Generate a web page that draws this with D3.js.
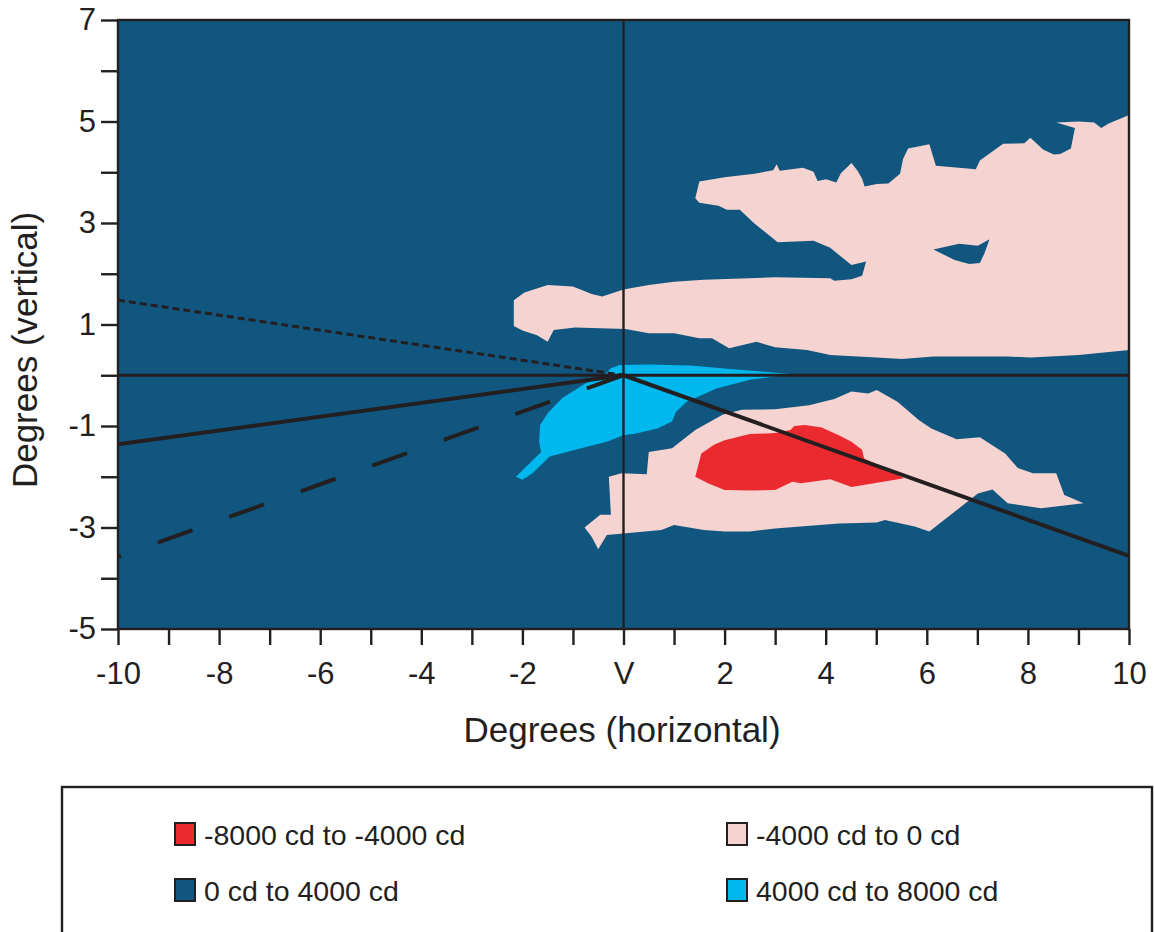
<!DOCTYPE html>
<html>
<head>
<meta charset="utf-8">
<script src="https://cdn.jsdelivr.net/npm/d3@7"></script>
<style>
  html, body { margin: 0; padding: 0; background: #fff; }
  svg { display: block; font-family: "Liberation Sans", Arial, sans-serif; }
</style>
</head>
<body>
<svg id="chart" width="1154" height="932"></svg>
<script>
// ---------- data (degrees) ----------
const xTicks = d3.range(-10, 11);
const yTicks = d3.range(-5, 8);

const legendLabels = ["-8000 cd to -4000 cd", "-4000 cd to 0 cd", "0 cd to 4000 cd", "4000 cd to 8000 cd"];
const legendColors = ["#ea2a2f", "#f5d3d0", "#11567f", "#00b7ee"];

// -4000 to 0 cd, upper region
const upperPink = [[-2.17,1.48],[-1.96,1.63],[-1.50,1.78],[-1.00,1.75],[-0.63,1.60],[-0.42,1.55],[0.00,1.69],[0.50,1.78],[1.00,1.84],[1.59,1.88],[3.00,1.93],[4.09,1.91],[4.17,1.86],[4.51,1.89],[4.72,1.96],[4.80,2.24],[4.51,2.17],[4.09,2.51],[3.76,2.65],[3.05,2.62],[2.59,2.99],[2.30,3.26],[2.04,3.26],[1.88,3.34],[1.50,3.40],[1.42,3.49],[1.50,3.82],[2.00,3.90],[2.59,3.97],[2.96,4.04],[3.03,4.16],[3.09,4.03],[3.55,4.09],[3.76,4.01],[3.84,3.83],[4.01,3.86],[4.21,3.80],[4.30,3.98],[4.51,4.18],[4.63,4.03],[4.72,3.87],[4.77,3.72],[5.01,3.77],[5.24,3.78],[5.47,3.97],[5.53,4.26],[5.63,4.47],[6.05,4.55],[6.18,4.13],[6.97,4.06],[7.05,4.23],[7.51,4.56],[7.93,4.57],[8.05,4.68],[8.30,4.45],[8.51,4.35],[8.64,4.36],[8.85,4.47],[8.93,4.87],[8.56,4.98],[9.01,5.00],[9.31,4.98],[9.45,4.87],[9.60,4.96],[10.00,5.13],[10.00,0.50],[9.01,0.40],[8.05,0.35],[7.60,0.37],[7.01,0.37],[6.13,0.37],[5.51,0.32],[5.01,0.35],[4.09,0.40],[3.63,0.50],[3.00,0.55],[2.63,0.66],[2.09,0.53],[1.75,0.73],[1.50,0.73],[1.00,0.83],[0.50,0.83],[0.04,0.91],[-0.96,0.94],[-1.38,0.89],[-1.50,0.66],[-1.71,0.79],[-2.00,0.88],[-2.17,0.97]];
const upperPinkHole = [[6.13,2.48],[6.64,2.59],[7.01,2.55],[7.24,2.68],[7.14,2.40],[7.05,2.21],[6.84,2.19],[6.55,2.27]];

// -4000 to 0 cd, lower region
const lowerPink = [[1.96,-0.78],[2.34,-0.68],[3.00,-0.67],[3.67,-0.59],[4.17,-0.47],[4.51,-0.32],[4.84,-0.36],[5.01,-0.29],[5.42,-0.52],[5.84,-0.88],[6.09,-1.05],[6.59,-1.26],[7.05,-1.22],[7.55,-1.54],[7.80,-1.83],[8.10,-1.93],[8.56,-1.93],[8.72,-2.36],[9.10,-2.52],[8.26,-2.62],[7.60,-2.52],[7.30,-2.25],[7.01,-2.33],[6.55,-2.69],[6.05,-3.08],[5.76,-2.98],[5.17,-2.85],[5.01,-2.90],[4.26,-2.92],[3.00,-3.02],[2.50,-3.08],[2.00,-3.08],[1.59,-3.05],[1.00,-2.95],[0.75,-3.05],[-0.33,-3.15],[-0.50,-3.43],[-0.63,-3.18],[-0.77,-3.00],[-0.46,-2.75],[-0.25,-2.75],[-0.29,-2.00],[-0.04,-1.93],[0.46,-1.95],[0.50,-1.51],[0.96,-1.44],[1.42,-1.08]];

// -8000 to -4000 cd
const redCore = [[1.42,-2.00],[1.54,-1.54],[1.79,-1.37],[2.00,-1.28],[2.50,-1.16],[3.00,-1.14],[3.30,-1.08],[3.38,-1.00],[3.59,-0.98],[3.92,-1.03],[4.26,-1.18],[4.51,-1.31],[4.72,-1.47],[4.76,-1.64],[5.17,-1.83],[5.55,-2.03],[4.51,-2.20],[4.09,-2.05],[3.51,-2.13],[3.34,-2.10],[3.00,-2.26],[2.50,-2.27],[2.00,-2.26],[1.67,-2.13]];

// 4000 to 8000 cd
const cyanCore = [[-0.25,0.14],[-0.08,0.20],[0.50,0.21],[1.33,0.19],[2.17,0.12],[3.35,0.02],[2.50,-0.09],[1.84,-0.26],[1.25,-0.52],[1.04,-0.72],[0.96,-0.91],[0.67,-1.05],[0.25,-1.15],[0.00,-1.18],[-0.33,-1.31],[-0.84,-1.44],[-1.46,-1.60],[-1.80,-1.93],[-2.00,-2.06],[-2.13,-2.00],[-1.63,-1.51],[-1.67,-1.31],[-1.65,-0.98],[-1.50,-0.75],[-1.21,-0.45],[-0.75,-0.16],[-0.42,-0.03]];

// reference lines through V (0,0)
const solidLeft  = [[-10,-1.36],[0,0]];
const solidRight = [[0,0],[10,-3.56]];
const dottedLine = [[-10,1.48],[0,0]];
const dashedLine = [[0,0],[-10,-3.58]];

// ---------- drawing ----------
const ink = "#231f20";
const svg = d3.select("#chart");
const x = d3.scaleLinear().domain([-10, 10]).range([118, 1129]);
const y = d3.scaleLinear().domain([-5, 7]).range([629, 20]);
const line = d3.line().x(d => x(d[0])).y(d => y(d[1]));
const closed = pts => line(pts) + "Z";

const plot = svg.append("g");
plot.append("rect")
  .attr("x", x(-10)).attr("y", y(7))
  .attr("width", x(10) - x(-10)).attr("height", y(-5) - y(7))
  .attr("fill", legendColors[2]);

plot.append("path").attr("d", closed(upperPink) + closed(upperPinkHole))
  .attr("fill", legendColors[1]).attr("fill-rule", "evenodd");
plot.append("path").attr("d", closed(lowerPink)).attr("fill", legendColors[1]);
plot.append("path").attr("d", closed(redCore)).attr("fill", legendColors[0]);
plot.append("path").attr("d", closed(cyanCore)).attr("fill", legendColors[3]);

// crosshair
plot.append("line").attr("x1", x(-10)).attr("x2", x(10)).attr("y1", y(0)).attr("y2", y(0))
  .attr("stroke", ink).attr("stroke-width", 2.8);
plot.append("line").attr("x1", x(0)).attr("x2", x(0)).attr("y1", y(7)).attr("y2", y(-5))
  .attr("stroke", ink).attr("stroke-width", 2.4);

// reference lines
plot.append("path").attr("d", line(dottedLine)).attr("fill", "none")
  .attr("stroke", ink).attr("stroke-width", 3).attr("stroke-dasharray", "7,4");
plot.append("path").attr("d", line(dashedLine)).attr("fill", "none")
  .attr("stroke", ink).attr("stroke-width", 4).attr("stroke-dasharray", "37,39").attr("stroke-dashoffset", 74);
plot.append("path").attr("d", line(solidLeft)).attr("fill", "none")
  .attr("stroke", ink).attr("stroke-width", 4);
plot.append("path").attr("d", line(solidRight)).attr("fill", "none")
  .attr("stroke", ink).attr("stroke-width", 4);

// frame
plot.append("rect")
  .attr("x", x(-10)).attr("y", y(7))
  .attr("width", x(10) - x(-10)).attr("height", y(-5) - y(7))
  .attr("fill", "none").attr("stroke", ink).attr("stroke-width", 2.4);

// axes
const yAxis = d3.axisLeft(y).tickValues(yTicks)
  .tickFormat(d => Math.abs(d % 2) === 1 ? String(d) : "")
  .tickSize(17).tickPadding(5);
const gy = svg.append("g").attr("transform", `translate(${x(-10)},0)`).call(yAxis);
gy.select(".domain").remove();
gy.selectAll(".tick line").attr("stroke", ink).attr("stroke-width", 2.4);
gy.selectAll(".tick text").attr("fill", ink).style("font-size", "31px")
  .style("font-family", "'Liberation Sans', Arial, sans-serif");

const xAxis = d3.axisBottom(x).tickValues(xTicks)
  .tickFormat(d => d % 2 === 0 ? (d === 0 ? "V" : String(d)) : "")
  .tickSize(16).tickPadding(17);
const gx = svg.append("g").attr("transform", `translate(0,${y(-5)})`).call(xAxis);
gx.select(".domain").remove();
gx.selectAll(".tick line").attr("stroke", ink).attr("stroke-width", 2.4);
gx.selectAll(".tick text").attr("fill", ink).style("font-size", "31px")
  .style("font-family", "'Liberation Sans', Arial, sans-serif");

// titles
svg.append("text").attr("x", 622).attr("y", 742).attr("text-anchor", "middle")
  .attr("fill", ink).style("font-size", "35px").text("Degrees (horizontal)");
svg.append("text").attr("transform", "translate(37,350) rotate(-90)").attr("text-anchor", "middle")
  .attr("fill", ink).style("font-size", "35px").text("Degrees (vertical)");

// legend
svg.append("rect").attr("x", 62).attr("y", 787).attr("width", 1090).attr("height", 160)
  .attr("fill", "#fff").attr("stroke", ink).attr("stroke-width", 2.4);
const legendPos = [[175, 823], [727, 823], [175, 879], [727, 879]];
const lg = svg.append("g").selectAll("g").data(legendLabels).join("g")
  .attr("transform", (d, i) => `translate(${legendPos[i][0]},${legendPos[i][1]})`);
lg.append("rect").attr("x", 0).attr("y", 0).attr("width", 20).attr("height", 22)
  .attr("fill", (d, i) => legendColors[i]).attr("stroke", ink).attr("stroke-width", 2);
lg.append("text").attr("x", 29).attr("y", 22).attr("fill", ink)
  .style("font-size", "28.5px").text(d => d);
</script>
</body>
</html>
